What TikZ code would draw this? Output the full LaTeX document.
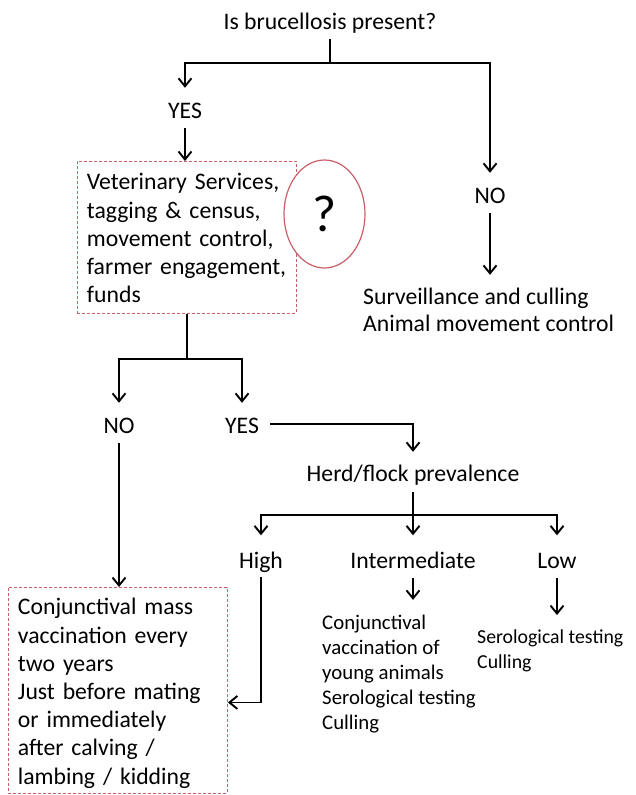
\documentclass[tikz,border=0pt]{standalone}
\usepackage{fontspec}
\setmainfont{Carlito}
\usepackage{tikz}
\usetikzlibrary{shapes.geometric, arrows.meta, positioning, calc}
\definecolor{boxred}{RGB}{200,95,105}
\tikzset{
  lbl/.style={inner sep=0pt, text height=17pt, text depth=6pt, font=\fontsize{23.7}{28.2}\selectfont}, % one-line labels
  txt/.style={inner sep=0pt, align=left, font=\fontsize{23.7}{27}\selectfont},
  smalltxt/.style={inner sep=0pt, align=left},
  dbox/.style={draw=boxred, dash pattern=on 3pt off 2pt, line width=0.9pt, align=left, inner ysep=0pt, inner xsep=9.5pt, text width=200pt, font=\fontsize{23.7}{28.2}\selectfont},
  qmark/.style={ellipse, draw=boxred, line width=1.2pt, fill=white, minimum width=81pt, minimum height=108pt, font=\fontsize{52}{52}\selectfont},
  conn/.style={draw, line width=1.9pt}
}

\begin{document}
\begin{tikzpicture}[x=1pt, y=-1pt, >={Straight Barb[length=8pt,width=13pt]}]
    \useasboundingbox (0,0) rectangle (636,795);

    % Nodes
    \node[lbl, anchor=base] (title) at (330,29.5) {Is brucellosis present?};
    \node[lbl, anchor=base] (yesA) at (185,118.5) {YES};
    \node[lbl, anchor=base] (noA) at (490,203.5) {NO};
    \node[dbox, anchor=north west, text height=28.5pt, text depth=123.5pt] (vet) at (77,161) {Veterinary Services,\\tagging \& census,\\movement control,\\farmer engagement,\\funds};
    \node[qmark] (query) at (324.5,214) {?};
    \node[txt, anchor=base west] (surv) at (363,331.5) {Surveillance and culling\\Animal movement control};
    \node[lbl, anchor=base] (noB) at (119,433.5) {NO};
    \node[lbl, anchor=base] (yesB) at (242,433.5) {YES};
    \node[lbl, anchor=base] (herd) at (413,481.5) {Herd/flock prevalence};
    \node[lbl, anchor=base] (high) at (261,568.5) {High};
    \node[lbl, anchor=base] (inter) at (413,568.5) {Intermediate};
    \node[lbl, anchor=base] (low) at (557,568.5) {Low};
    \node[smalltxt, font=\fontsize{20.8}{25}\selectfont, anchor=base west] (interTxt) at (322,729) {Conjunctival\\vaccination of\\young animals\\Serological testing\\Culling};
    \node[smalltxt, font=\fontsize{19.8}{25}\selectfont, anchor=base west] (lowTxt) at (477,668) {Serological testing\\Culling};
    \node[dbox, anchor=north west, text height=27.5pt, text depth=178.5pt] (vac) at (8,587) {Conjunctival mass\\vaccination every\\two years\\Just before mating\\or immediately\\after calving /\\lambing / kidding};

    \coordinate (split1) at (330,63);
    \coordinate (split2) at ($(vet.south)+(0,45)$);
    \coordinate (split3) at (413,515);

    % Edges
    \draw[conn, shorten <=3.5pt] (title.south) -- (split1);
    \draw[conn, ->, shorten >=13.5pt] (split1) -| (yesA);
    \draw[conn, ->, shorten >=13.5pt] (split1) -| (noA);
    \draw[conn, ->, shorten <=3.5pt] (yesA.south) -- (yesA.south |- vet.north);
    \draw[conn, ->, shorten <=3.5pt, shorten >=13pt] (noA.south) -- (noA.south |- surv.north);
    \draw[conn] (vet.south) -- (split2);
    \draw[conn, ->, shorten >=13.5pt] (split2) -| (noB);
    \draw[conn, ->, shorten >=13.5pt] (split2) -| (yesB);
    \draw[conn, ->, shorten <=3.5pt] (noB.south) -- (noB.south |- vac.north);
    \draw[conn, ->, shorten <=11pt, shorten >=12.5pt] ([yshift=4pt]yesB.east) -| (herd);
    \draw[conn, shorten <=4.5pt] (herd.south) -- (split3);
    \draw[conn, ->, shorten >=16pt] (split3) -| (high);
    \draw[conn, ->, shorten >=16pt] (split3) -| (inter);
    \draw[conn, ->, shorten >=16pt] (split3) -| (low);
    \draw[conn, ->, shorten <=2.5pt] (high.south) |- ([yshift=-12pt]vac.east);
    \draw[conn, ->, shorten <=3pt, shorten >=14.5pt] (inter.south) -- (inter.south |- interTxt.north);
    \draw[conn, ->, shorten <=3pt, shorten >=14pt] (low.south) -- (low.south |- lowTxt.north);

\end{tikzpicture}
\end{document}
